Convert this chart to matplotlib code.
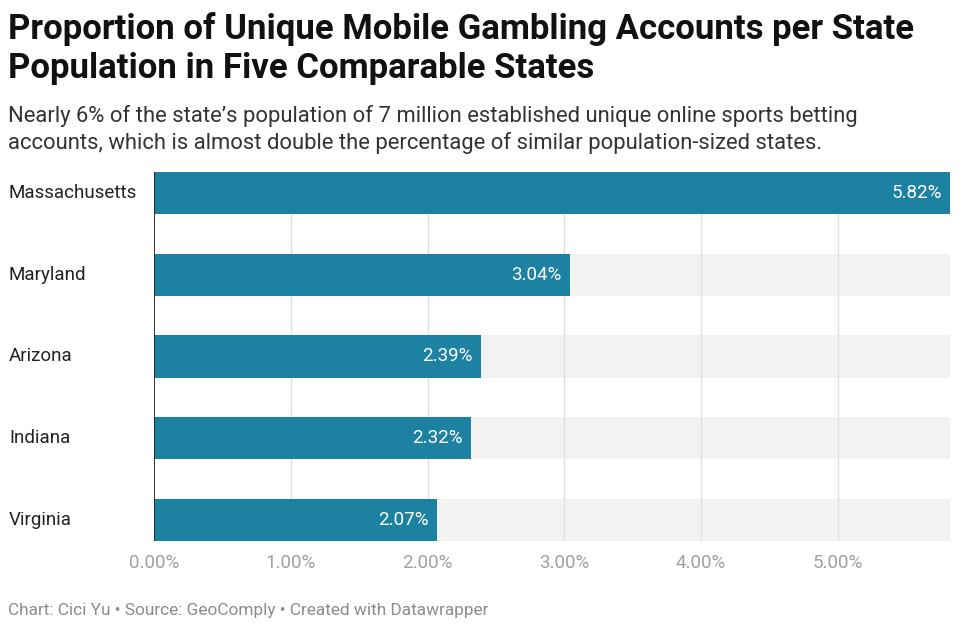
import matplotlib.pyplot as plt
from matplotlib.transforms import blended_transform_factory

states = ["Massachusetts", "Maryland", "Arizona", "Indiana", "Virginia"]
shares = [5.82, 3.04, 2.39, 2.32, 2.07]
ticks = [0, 1, 2, 3, 4, 5]
tick_labels = ["0.00%", "1.00%", "2.00%", "3.00%", "4.00%", "5.00%"]

BAR = "#1d81a2"

plt.rcParams["font.family"] = ["Roboto", "DejaVu Sans"]

fig = plt.figure(figsize=(9.6, 6.3), dpi=100)
ax = fig.add_axes([154 / 960, 1 - 541 / 630, 796 / 960, 369 / 630])

xmax = 5.82
ypos = list(range(len(states)))
h = 0.52

# grey background strips, then grid, then bars
ax.barh(ypos, [xmax] * len(states), height=h, color="#f2f2f2", zorder=1)
for t in ticks[1:]:
    ax.axvline(t, color="#e0e0e0", lw=1, zorder=2)
ax.barh(ypos, shares, height=h, color=BAR, zorder=3)
ax.axvline(0, color="#222222", lw=1.3, zorder=4)

for y, v in zip(ypos, shares):
    ax.text(v - 0.06, y, f"{v:.2f}%", ha="right", va="center",
            color="white", fontsize=13.5, zorder=5)

# state names, left aligned at the figure edge
trans = blended_transform_factory(fig.transFigure, ax.transData)
for y, s in zip(ypos, states):
    ax.text(9 / 960, y, s, transform=trans, ha="left", va="center",
            fontsize=13.5, color="#222222", clip_on=False)

ax.set_xlim(0, xmax)
ax.set_ylim(len(states) - 1 + h / 2, -h / 2)
ax.set_xticks(ticks)
ax.set_xticklabels(tick_labels, color="#a0a0a0", fontsize=13.5)
ax.set_yticks([])
ax.tick_params(axis="x", length=0, pad=9)
for s in ax.spines.values():
    s.set_visible(False)

fig.text(8 / 960, 1 - 12 / 630,
         "Proportion of Unique Mobile Gambling Accounts per State\nPopulation in Five Comparable States",
         ha="left", va="top", fontsize=25, fontweight="bold", color="#111111",
         linespacing=1.22)
fig.text(8 / 960, 1 - 105 / 630,
         "Nearly 6% of the state’s population of 7 million established unique online sports betting\naccounts, which is almost double the percentage of similar population-sized states.",
         ha="left", va="top", fontsize=15.8, color="#333333", linespacing=1.3)
fig.text(8 / 960, 1 - 611 / 630,
         "Chart: Cici Yu • Source: GeoComply • Created with Datawrapper",
         ha="left", va="center", fontsize=12.45, color="#8c8c8c")

fig.savefig("out.png", dpi=100)
